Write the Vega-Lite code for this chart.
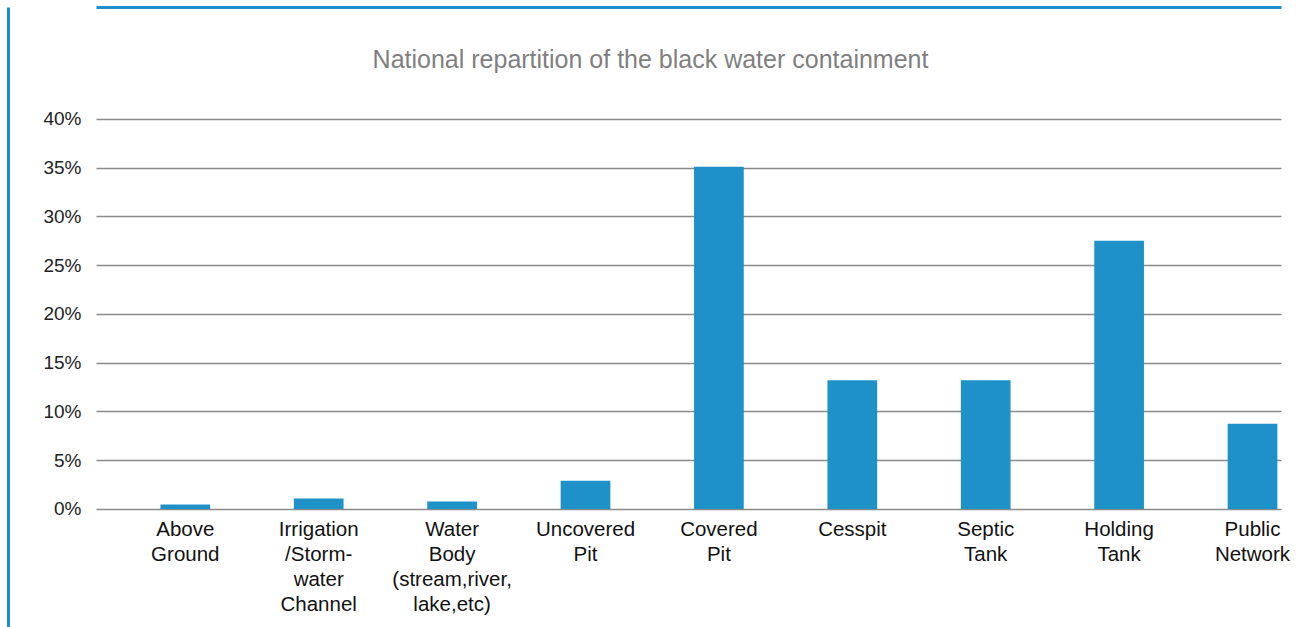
{
  "$schema": "https://vega.github.io/schema/vega-lite/v6.json",
  "width": 1185,
  "height": 620,
  "autosize": {"type": "none"},
  "padding": {"left": 96, "top": 7, "right": 33, "bottom": 0},
  "background": "white",
  "title": {
    "text": "National repartition of the black water containment",
    "color": "#7f7f7f",
    "fontSize": 25,
    "font": "Liberation Sans",
    "fontWeight": "normal",
    "anchor": "middle",
    "dx": -38,
    "dy": 70
  },
  "data": {
    "values": [
      {"containment": "Above Ground", "share": 0.45},
      {"containment": "Irrigation /Storm- water Channel", "share": 1.07},
      {"containment": "Water Body (stream,river, lake,etc)", "share": 0.76},
      {"containment": "Uncovered Pit", "share": 2.9},
      {"containment": "Covered Pit", "share": 35.1},
      {"containment": "Cesspit", "share": 13.2},
      {"containment": "Septic Tank", "share": 13.2},
      {"containment": "Holding Tank", "share": 27.5},
      {"containment": "Public Network", "share": 8.75}
    ]
  },
  "layer": [
    {
      "mark": {"type": "bar", "color": "#1e91c9"},
      "encoding": {
        "x": {
          "field": "containment",
          "type": "nominal",
          "sort": null,
          "scale": {"paddingInner": 0.6274, "paddingOuter": 0.2552, "align": 0.9466},
          "axis": {
            "orient": "bottom",
            "offset": -118,
            "domain": false,
            "ticks": false,
            "labelPadding": 10,
            "labelAngle": 0,
            "labelFont": "Liberation Sans",
            "labelFontSize": 20.5,
            "labelLineHeight": 25.3,
            "labelColor": "#111111",
            "labelBaseline": "top",
            "labelExpr": "split(datum.label, ' ')",
            "title": null
          }
        },
        "y": {
          "field": "share",
          "type": "quantitative",
          "scale": {"domain": [-12.103, 51.487], "nice": false, "zero": false},
          "axis": {
            "offset": 88,
            "values": [0, 5, 10, 15, 20, 25, 30, 35, 40],
            "labelExpr": "datum.value + '%'",
            "domainColor": "#1a8fcb",
            "domainWidth": 3,
            "ticks": false,
            "labelPadding": -73,
            "labelFont": "Liberation Sans",
            "labelFontSize": 19,
            "labelColor": "#222222",
            "grid": true,
            "gridColor": "#8a8a8a",
            "gridWidth": 1.5,
            "title": null
          }
        }
      }
    },
    {
      "mark": {"type": "bar", "opacity": 0},
      "encoding": {
        "x": {
          "field": "containment",
          "type": "nominal",
          "sort": null,
          "axis": {
            "orient": "top",
            "labels": false,
            "ticks": false,
            "grid": false,
            "domainColor": "#1a8fcb",
            "domainWidth": 3,
            "title": null
          }
        },
        "y": {"field": "share", "type": "quantitative"}
      }
    }
  ],
  "resolve": {"axis": {"x": "independent"}},
  "config": {"view": {"stroke": null}}
}
